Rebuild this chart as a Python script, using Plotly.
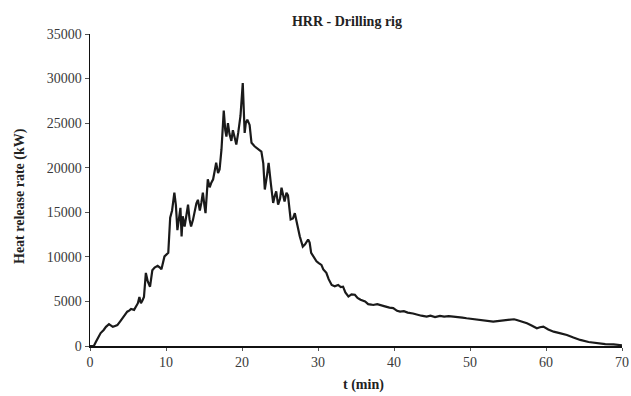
import plotly.graph_objects as go

t_min = [0.0, 0.5, 0.8, 1.1, 1.4, 1.8, 2.1, 2.5, 2.8, 3.0, 3.3, 3.6, 4.0, 4.5, 4.9, 5.2, 5.4, 5.8,
         6.1, 6.3, 6.5, 6.7, 6.9, 7.1, 7.35, 7.6, 7.9, 8.2, 8.5, 8.9, 9.2, 9.4, 9.8, 10.3, 10.55,
         10.8, 11.1, 11.3, 11.5, 11.7, 11.9, 12.05, 12.2, 12.45, 12.7, 12.9, 13.1, 13.3, 13.55,
         13.8, 14.0, 14.2, 14.45, 14.65, 14.85, 15.05, 15.2, 15.5, 15.75, 15.95, 16.2, 16.4, 16.6,
         16.85, 17.05, 17.3, 17.6, 17.8, 17.95, 18.15, 18.35, 18.6, 18.8, 18.95, 19.1, 19.25, 19.5,
         19.8, 20.1, 20.35, 20.5, 20.7, 21.0, 21.25, 21.65, 22.0, 22.3, 22.55, 22.8, 23.0, 23.3,
         23.5, 23.8, 24.1, 24.3, 24.5, 24.75, 25.0, 25.2, 25.4, 25.6, 25.85, 26.05, 26.4, 26.7,
         26.95, 27.2, 27.6, 28.0, 28.3, 28.7, 28.9, 29.1, 29.4, 29.8, 30.1, 30.45, 30.7, 31.1,
         31.4, 31.8, 32.2, 32.65, 33.0, 33.3, 33.6, 34.0, 34.4, 34.85, 35.2, 35.6, 36.2, 36.6,
         37.0, 37.25, 37.8, 38.35, 38.8, 39.4, 39.9, 40.4, 40.8, 41.3, 41.8, 42.5, 43.0, 43.6,
         44.3, 44.8, 45.4, 46.05, 46.6, 47.2, 47.8, 48.4, 49.0, 49.55, 50.2, 50.8, 51.3, 51.9,
         52.5, 53.05, 53.6, 54.2, 54.8, 55.3, 55.8, 56.15, 56.8, 57.5, 58.1, 58.8, 59.2, 59.65,
         60.3, 61.0, 61.8, 62.75, 63.6, 64.5, 65.6, 66.7, 67.8, 68.9, 69.5, 70.0]

hrr_kw = [0, 0, 500, 1000, 1450, 1800, 2150, 2450, 2300, 2150, 2250, 2350, 2800, 3450, 3850, 4000,
          4150, 4050, 4500, 4800, 5500, 4800, 5100, 5500, 8200, 7250, 6650, 8500, 8800, 9000, 8800,
          8600, 10050, 10450, 14400, 15200, 17200, 15800, 13000, 14500, 15500, 12300, 14550, 13400,
          14800, 15850, 14200, 13400, 14150, 15200, 16000, 16400, 15200, 16050, 17200, 15800, 14900,
          18700, 17800, 18300, 18700, 19600, 20550, 19400, 19800, 22050, 26400, 24200, 23500, 25000,
          23800, 23000, 24200, 23700, 22900, 22600, 23900, 25800, 29500, 23900, 25000, 25400, 24800,
          22800, 22400, 22200, 22000, 21800, 20500, 17550, 19200, 20550, 18200, 16050, 16800, 17350,
          15850, 16500, 17750, 16800, 16200, 17200, 16900, 14200, 14300, 14900, 13800, 12300, 11150,
          11400, 11950, 11600, 10450, 10000, 9500, 9300, 9100, 8600, 8200, 7500, 6850, 6700, 6850,
          6600, 6650, 6000, 5550, 5800, 5750, 5400, 5200, 5000, 4700, 4650, 4600, 4700, 4600, 4450,
          4300, 4250, 3950, 3850, 3900, 3750, 3650, 3500, 3400, 3300, 3400, 3250, 3380, 3300, 3350,
          3300, 3200, 3180, 3110, 3050, 2980, 2920, 2850, 2800, 2730, 2800, 2850, 2880, 2920, 3000,
          2920, 2750, 2550, 2300, 1990, 2100, 2170, 1850, 1610, 1450, 1240, 950, 680, 450, 300, 220,
          190, 120, 80]

x_ticks = [0, 10, 20, 30, 40, 50, 60, 70]
y_ticks = [0, 5000, 10000, 15000, 20000, 25000, 30000, 35000]

serif = "Liberation Serif, Times New Roman, serif"

fig = go.Figure()
fig.add_trace(go.Scatter(
    x=t_min, y=hrr_kw, mode="lines",
    line=dict(color="#1a1a1a", width=2.2),
    showlegend=False, hoverinfo="skip",
))

W, H = 631, 396
L, R, T, B = 90, 9, 34, 50
pw, ph = W - L - R, H - T - B

fig.update_layout(
    width=W, height=H,
    margin=dict(l=L, r=R, t=T, b=B, autoexpand=False),
    paper_bgcolor="white", plot_bgcolor="white",
    font=dict(family=serif, size=14, color="#333333"),
    title=dict(text="<b>HRR - Drilling rig</b>", x=347 / W, xanchor="center",
               y=1 - 21 / H, yanchor="middle",
               font=dict(family=serif, size=14, color="#222222")),
    xaxis=dict(
        range=[0, 70], tickvals=x_ticks, ticktext=[str(v) for v in x_ticks],
        showgrid=False, zeroline=False, automargin=False,
        showline=True, linecolor="#111111", linewidth=1.5,
        ticks="outside", ticklen=3, tickcolor="#555555",
        tickfont=dict(family=serif, size=14, color="#3a3a3a"),
    ),
    yaxis=dict(
        range=[0, 35000], tickvals=y_ticks, ticktext=[str(v) for v in y_ticks],
        showgrid=False, zeroline=False, automargin=False,
        showline=True, linecolor="#111111", linewidth=1.5,
        ticks="outside", ticklen=4, tickcolor="#555555",
        tickfont=dict(family=serif, size=14, color="#3a3a3a"),
    ),
    annotations=[
        dict(text="<b>t (min)</b>", xref="paper", yref="paper",
             x=(363 - L) / pw, y=(T + ph - 385) / ph, xanchor="center", yanchor="middle",
             showarrow=False, font=dict(family=serif, size=14, color="#222222")),
        dict(text="<b>Heat release rate (kW)</b>", xref="paper", yref="paper",
             x=(20 - L) / pw, y=(T + ph - 196) / ph, xanchor="center", yanchor="middle",
             textangle=-90, showarrow=False,
             font=dict(family=serif, size=14, color="#222222")),
    ],
)

fig.write_html(
    "out.html",
    config={"displayModeBar": False, "staticPlot": True},
    post_script="document.body.style.margin='0';document.body.style.overflow='hidden';",
)
